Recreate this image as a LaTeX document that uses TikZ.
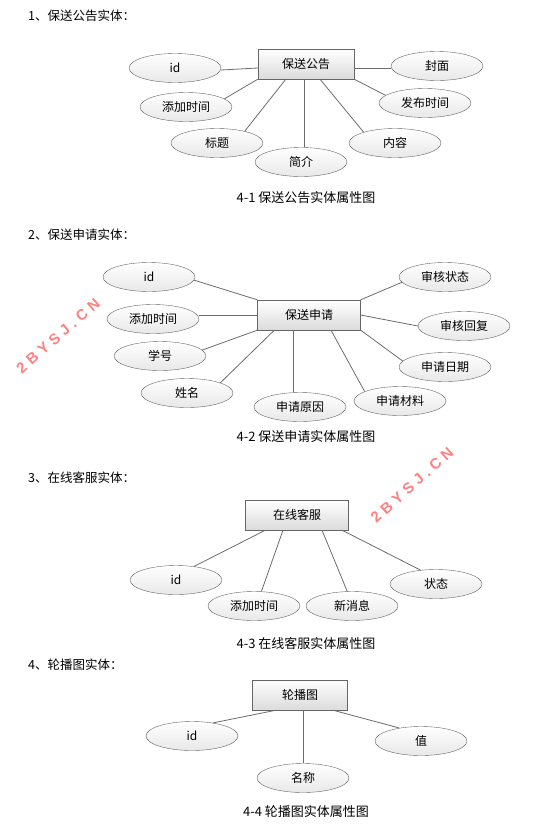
\documentclass[tikz,border=0pt]{standalone}
\usepackage{fontspec}
\setmainfont{Noto Sans CJK SC}
\newfontfamily\markfont[LetterSpace=30]{Liberation Sans}
\usetikzlibrary{shapes.geometric}

\begin{document}
\begin{tikzpicture}[x=1pt,y=-1pt,
    attr/.style={ellipse, draw=gray!80!black, top color=white, bottom color=gray!18,
        minimum width=92pt, minimum height=29pt, inner sep=0pt, font=\fontsize{12}{14}\selectfont},
    entity/.style={rectangle, draw=gray!80!black, top color=white, bottom color=gray!28,
        minimum width=96pt, minimum height=30pt, inner sep=0pt, font=\fontsize{12}{14}\selectfont},
    link/.style={draw=gray!85!black, line width=0.8pt},
    heading/.style={anchor=west, inner sep=0pt, font=\fontsize{12.5}{15}\selectfont},
    caption/.style={inner sep=0pt, font=\fontsize{13}{15}\selectfont},
    watermark/.style={text=red!50!white, inner sep=0pt, font=\markfont\bfseries\fontsize{15}{17}\selectfont}]
    \useasboundingbox (0,0) rectangle (559,836);

    % Section 1
    \node[heading] (h1) at (28,16) {1、保送公告实体：};
    \node[entity] (notice) at (306,64) {保送公告};
    \node[attr] (n-id) at (175,68) {id};
    \node[attr] (n-addtime) at (186,107) {添加时间};
    \node[attr] (n-title) at (217,143) {标题};
    \node[attr] (n-intro) at (301,162) {简介};
    \node[attr] (n-content) at (395,143) {内容};
    \node[attr] (n-pubtime) at (425,103) {发布时间};
    \node[attr] (n-cover) at (437,66) {封面};
    \draw[link] ([yshift=-4pt]notice.west) -- ([yshift=-2pt]n-id.east);
    \draw[link] (notice.south west) -- (n-addtime.12);
    \draw[link] ([xshift=28pt]notice.south west) -- (n-title.23);
    \draw[link] ([xshift=-2pt]notice.south) -- ([xshift=-2pt]notice.south |- n-intro.north);
    \draw[link] ([xshift=14pt]notice.south) -- (n-content.161);
    \draw[link] (notice.south east) -- (n-pubtime.169);
    \draw[link] ([yshift=-4pt]notice.east) -- ([yshift=-2pt]n-cover.west);
    \node[caption] (c1) at (306,198) {4-1 保送公告实体属性图};

    % Section 2
    \node[heading] (h2) at (28,235) {2、保送申请实体：};
    \node[entity, minimum width=103pt] (apply) at (309,315) {保送申请};
    \node[attr] (a-id) at (149,277) {id};
    \node[attr] (a-addtime) at (153,319) {添加时间};
    \node[attr] (a-stuno) at (160,356) {学号};
    \node[attr] (a-name) at (187,393) {姓名};
    \node[attr] (a-reason) at (300,407) {申请原因};
    \node[attr] (a-material) at (400,401) {申请材料};
    \node[attr] (a-date) at (445,367) {申请日期};
    \node[attr] (a-reply) at (464,326) {审核回复};
    \node[attr] (a-status) at (445,277) {审核状态};
    \draw[link] (apply.north west) -- (a-id.-4);
    \draw[link] (apply.west) -- (apply.west -| a-addtime.east);
    \draw[link] (apply.south west) -- (a-stuno.8);
    \draw[link] ([xshift=17pt]apply.south west) -- (a-name.17);
    \draw[link] ([xshift=-16pt]apply.south) -- ([xshift=-16pt]apply.south |- a-reason.north);
    \draw[link] ([xshift=22pt]apply.south) -- (a-material.165);
    \draw[link] (apply.south east) -- (a-date.172);
    \draw[link] (apply.east) -- (a-reply.west);
    \draw[link] (apply.north east) -- (a-status.-173);
    \node[caption] (c2) at (306,437) {4-2 保送申请实体属性图};

    % Section 3
    \node[heading] (h3) at (28,478) {3、在线客服实体：};
    \node[entity, minimum width=103pt] (service) at (297,515) {在线客服};
    \node[attr] (s-id) at (176,580) {id};
    \node[attr] (s-addtime) at (254,606) {添加时间};
    \node[attr] (s-msg) at (352,606) {新消息};
    \node[attr] (s-status) at (436,584) {状态};
    \draw[link] ([xshift=20pt]service.south west) -- (s-id.37);
    \draw[link] ([xshift=-14pt]service.south) -- (s-addtime.63);
    \draw[link] ([xshift=25pt]service.south) -- (s-msg.108);
    \draw[link] ([xshift=45pt]service.south) -- (s-status.138);
    \node[caption] (c3) at (306,643) {4-3 在线客服实体属性图};

    % Section 4
    \node[heading] (h4) at (28,665) {4、轮播图实体：};
    \node[entity, minimum width=95pt] (carousel) at (300,695) {轮播图};
    \node[attr] (r-id) at (192,736) {id};
    \node[attr] (r-name) at (303,778) {名称};
    \node[attr] (r-value) at (421,741) {值};
    \draw[link] ([xshift=-24pt]carousel.south) -- (r-id.32);
    \draw[link] ([xshift=3pt]carousel.south) -- (r-name.north);
    \draw[link] ([xshift=33pt]carousel.south) -- (r-value.149);
    \node[caption] (c4) at (306,812) {4-4 轮播图实体属性图};

    % Watermarks
    \node[watermark, rotate=41] (wm1) at (58,336) {2BYSJ.CN};
    \node[watermark, rotate=42] (wm2) at (412,485) {2BYSJ.CN};
\end{tikzpicture}
\end{document}
